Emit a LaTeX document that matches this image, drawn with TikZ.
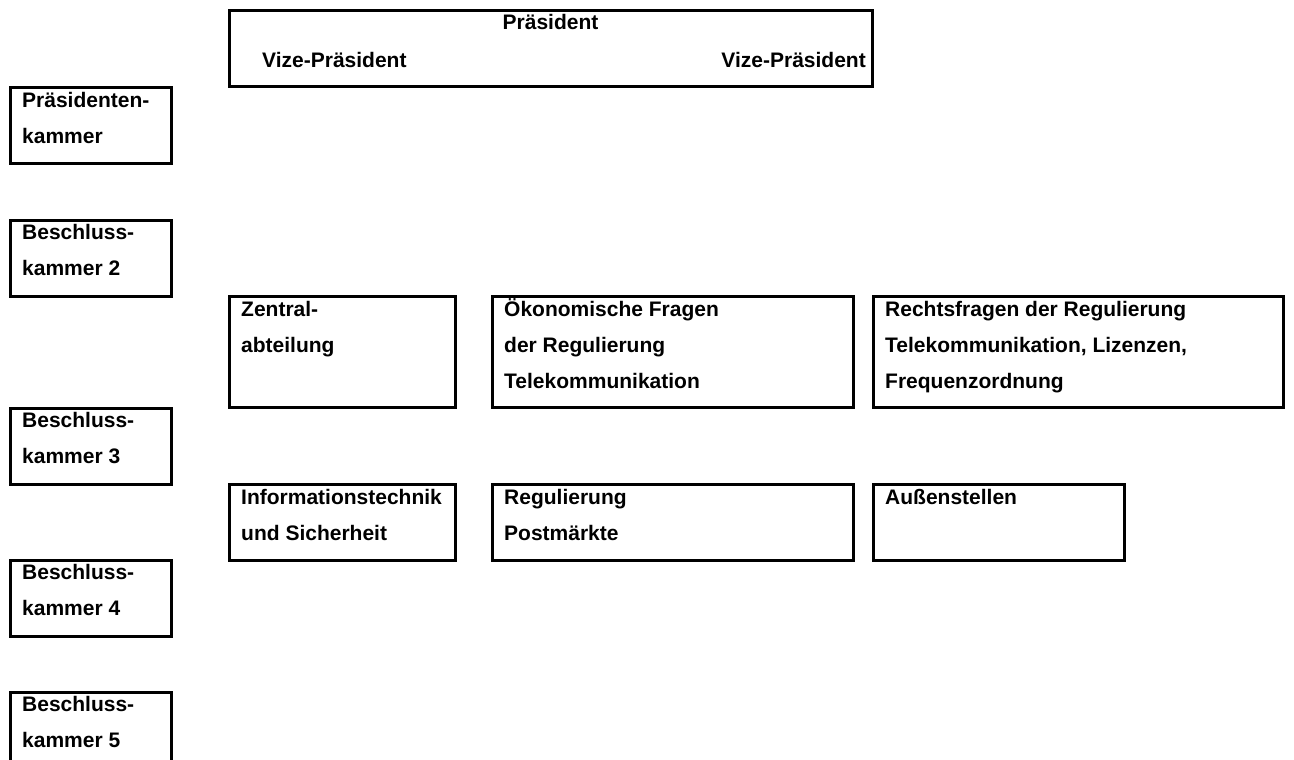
\documentclass[tikz,border=0pt]{standalone}
\usepackage{fontspec}
\setmainfont{Liberation Sans}
\begin{document}
\begin{tikzpicture}[x=1pt,y=-1pt,
  box/.style={draw, line width=3pt, anchor=north west, inner sep=0pt, outer sep=0pt},
  txt/.style={anchor=base west, inner sep=0pt, font=\fontsize{21}{25}\selectfont\bfseries},
  txtr/.style={anchor=base east, inner sep=0pt, font=\fontsize{21}{25}\selectfont\bfseries},
  txtc/.style={anchor=base, inner sep=0pt, font=\fontsize{21}{25}\selectfont\bfseries}]
\clip (0,0) rectangle (1294,760);
\fill[white] (0,0) rectangle (1294,760);
% top box
\node[box, minimum width=643pt, minimum height=76pt] (top) at (229,11) {};
\node[txtc] (pres) at (550.5,30) {Präsident};
\node[txt] (vp1) at (262,67) {Vize-Präsident};
\node[txtr] (vp2) at (866,67) {Vize-Präsident};
% left column
\node[box, minimum width=161pt, minimum height=75pt] (pk) at (10,88) {};
\node[txt] (pk1) at ([shift={(12,19)}]pk.north west) {Präsidenten-};
\node[txt] (pk2) at ([shift={(12,55)}]pk.north west) {kammer};
\node[box, minimum width=161pt, minimum height=76pt] (b2) at (10,220) {};
\node[txt] (b21) at ([shift={(12,19)}]b2.north west) {Beschluss-};
\node[txt] (b22) at ([shift={(12,55)}]b2.north west) {kammer 2};
\node[box, minimum width=161pt, minimum height=76pt] (b3) at (10,408) {};
\node[txt] (b31) at ([shift={(12,19)}]b3.north west) {Beschluss-};
\node[txt] (b32) at ([shift={(12,55)}]b3.north west) {kammer 3};
\node[box, minimum width=161pt, minimum height=76pt] (b4) at (10,560) {};
\node[txt] (b41) at ([shift={(12,19)}]b4.north west) {Beschluss-};
\node[txt] (b42) at ([shift={(12,55)}]b4.north west) {kammer 4};
\node[box, minimum width=161pt, minimum height=90pt] (b5) at (10,692) {};
\node[txt] (b51) at ([shift={(12,19)}]b5.north west) {Beschluss-};
\node[txt] (b52) at ([shift={(12,55)}]b5.north west) {kammer 5};
% middle row
\node[box, minimum width=226pt, minimum height=111pt] (zen) at (229,296) {};
\node[txt] (zen1) at ([shift={(12,20)}]zen.north west) {Zentral-};
\node[txt] (zen2) at ([shift={(12,56)}]zen.north west) {abteilung};
\node[box, minimum width=361pt, minimum height=111pt] (oek) at (492,296) {};
\node[txt] (oek1) at ([shift={(12,20)}]oek.north west) {Ökonomische Fragen};
\node[txt] (oek2) at ([shift={(12,56)}]oek.north west) {der Regulierung};
\node[txt] (oek3) at ([shift={(12,92)}]oek.north west) {Telekommunikation};
\node[box, minimum width=410pt, minimum height=111pt] (rf) at (873,296) {};
\node[txt] (rf1) at ([shift={(12,20)}]rf.north west) {Rechtsfragen der Regulierung};
\node[txt] (rf2) at ([shift={(12,56)}]rf.north west) {Telekommunikation, Lizenzen,};
\node[txt] (rf3) at ([shift={(12,92)}]rf.north west) {Frequenzordnung};
% lower row
\node[box, minimum width=226pt, minimum height=76pt] (it) at (229,484) {};
\node[txt] (it1) at ([shift={(12,20)}]it.north west) {Informationstechnik};
\node[txt] (it2) at ([shift={(12,56)}]it.north west) {und Sicherheit};
\node[box, minimum width=361pt, minimum height=76pt] (reg) at (492,484) {};
\node[txt] (reg1) at ([shift={(12,20)}]reg.north west) {Regulierung};
\node[txt] (reg2) at ([shift={(12,56)}]reg.north west) {Postmärkte};
\node[box, minimum width=251pt, minimum height=76pt] (aus) at (873,484) {};
\node[txt] (aus1) at ([shift={(12,20)}]aus.north west) {Außenstellen};
\end{tikzpicture}
\end{document}
